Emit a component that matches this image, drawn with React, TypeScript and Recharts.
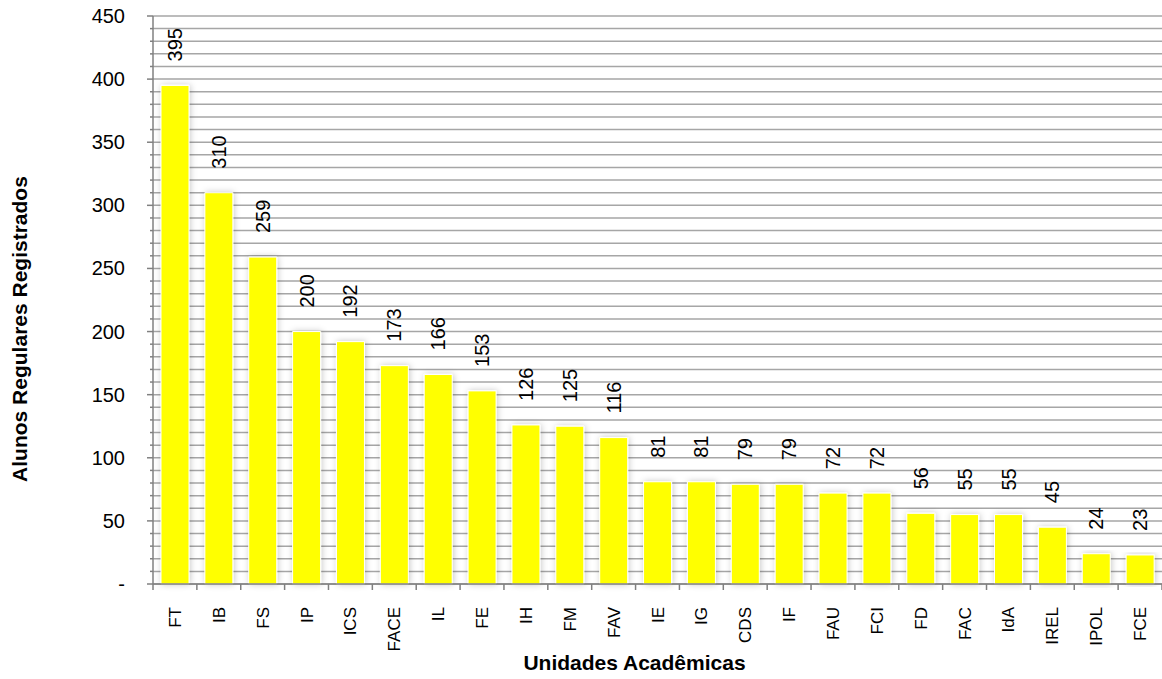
import React from "react";
import { BarChart, Bar, XAxis, YAxis, CartesianGrid, LabelList } from "recharts";

const categories = ["FT","IB","FS","IP","ICS","FACE","IL","FE","IH","FM","FAV","IE","IG","CDS","IF","FAU","FCI","FD","FAC","IdA","IREL","IPOL","FCE"];
const values = [395,310,259,200,192,173,166,153,126,125,116,81,81,79,79,72,72,56,55,55,45,24,23];
const yTicks = [0,50,100,150,200,250,300,350,400,450];
const minorTicks = [0,10,20,30,40,50,60,70,80,90,100,110,120,130,140,150,160,170,180,190,200,210,220,230,240,250,260,270,280,290,300,310,320,330,340,350,360,370,380,390,400,410,420,430,440,450];

const data = categories.map((c, i) => ({ name: c, value: values[i] }));

const W = 1162;
const H = 679;
const LEFT = 153;
const TOP = 16;
const XH = 95;
const FONT = "'Liberation Sans', Arial, sans-serif";
const BAND = (W - LEFT) / categories.length;

const YTick = (props: any) => {
  const { x, y, payload } = props;
  const major = yTicks.includes(payload.value);
  return (
    <g>
      <line x1={x - (major ? 6 : 3)} x2={x} y1={y} y2={y} stroke="#808080" strokeWidth={1.5} />
      {major && (
        <text x={x - 28} y={y} dy={7} textAnchor="end" fontFamily={FONT} fontSize={20} fill="#000">
          {payload.value === 0 ? "-" : payload.value}
        </text>
      )}
    </g>
  );
};

const XTick = (props: any) => {
  const { x, y, payload, index } = props;
  const left = x - BAND / 2;
  const ty = y + 23;
  return (
    <g>
      <line x1={left} x2={left} y1={y} y2={y + 6} stroke="#808080" strokeWidth={1.5} />
      {index === categories.length - 1 && (
        <line x1={left + BAND} x2={left + BAND} y1={y} y2={y + 6} stroke="#808080" strokeWidth={1.5} />
      )}
      <text
        x={x}
        y={ty}
        transform={`rotate(-90, ${x}, ${ty})`}
        textAnchor="end"
        dy={6}
        fontFamily={FONT}
        fontSize={17}
        fill="#000"
      >
        {payload.value}
      </text>
    </g>
  );
};

const ValueLabel = (props: any) => {
  const { x, y, width, value } = props;
  const cx = x + width / 2;
  const cy = y - 24;
  return (
    <text
      x={cx}
      y={cy}
      transform={`rotate(-90, ${cx}, ${cy})`}
      textAnchor="start"
      dy={7}
      fontFamily={FONT}
      fontSize={20}
      fill="#000"
    >
      {value}
    </text>
  );
};

export default function App() {
  return (
    <div style={{ position: "absolute", left: 0, top: 0, width: W, height: H, background: "#fff", overflow: "hidden" }}>
      <svg width={0} height={0} style={{ position: "absolute" }}>
        <defs>
          <filter id="barShadow" x="-40%" y="-10%" width="180%" height="120%">
            <feDropShadow dx={1} dy={0} stdDeviation={3} floodColor="#000" floodOpacity={0.22} />
          </filter>
        </defs>
      </svg>
      <BarChart
        width={W}
        height={H}
        data={data}
        margin={{ top: TOP, right: 0, bottom: 0, left: 0 }}
        barSize={28}
      >
        <CartesianGrid horizontal vertical={false} horizontalValues={minorTicks} stroke="#a6a6a6" strokeWidth={1.5} />
        <XAxis
          dataKey="name"
          height={XH}
          interval={0}
          tickLine={false}
          tickSize={0}
          tickMargin={0}
          axisLine={{ stroke: "#808080", strokeWidth: 1.5 }}
          tick={<XTick />}
          label={{
            content: (p: any) => {
              const vb = p.viewBox;
              return (
                <text x={vb.x + vb.width / 2 - 23} y={670} textAnchor="middle" fontFamily={FONT} fontSize={21} fontWeight="bold" fill="#000">
                  Unidades Acadêmicas
                </text>
              );
            },
          }}
        />
        <YAxis
          width={LEFT}
          domain={[0, 450]}
          ticks={minorTicks}
          interval={0}
          tickLine={false}
          tickSize={0}
          tickMargin={0}
          axisLine={{ stroke: "#808080", strokeWidth: 1.5 }}
          tick={<YTick />}
          label={{
            content: (p: any) => {
              const vb = p.viewBox;
              const cy = vb.y + vb.height / 2 + 29;
              return (
                <text x={27} y={cy} transform={`rotate(-90, 27, ${cy})`} textAnchor="middle" fontFamily={FONT} fontSize={21} fontWeight="bold" fill="#000">
                  Alunos Regulares Registrados
                </text>
              );
            },
          }}
        />
        <Bar dataKey="value" fill="#ffff00" stroke="#ffffff" strokeWidth={1} isAnimationActive={false} style={{ filter: "url(#barShadow)" }}>
          <LabelList dataKey="value" content={<ValueLabel />} />
        </Bar>
      </BarChart>
    </div>
  );
}
